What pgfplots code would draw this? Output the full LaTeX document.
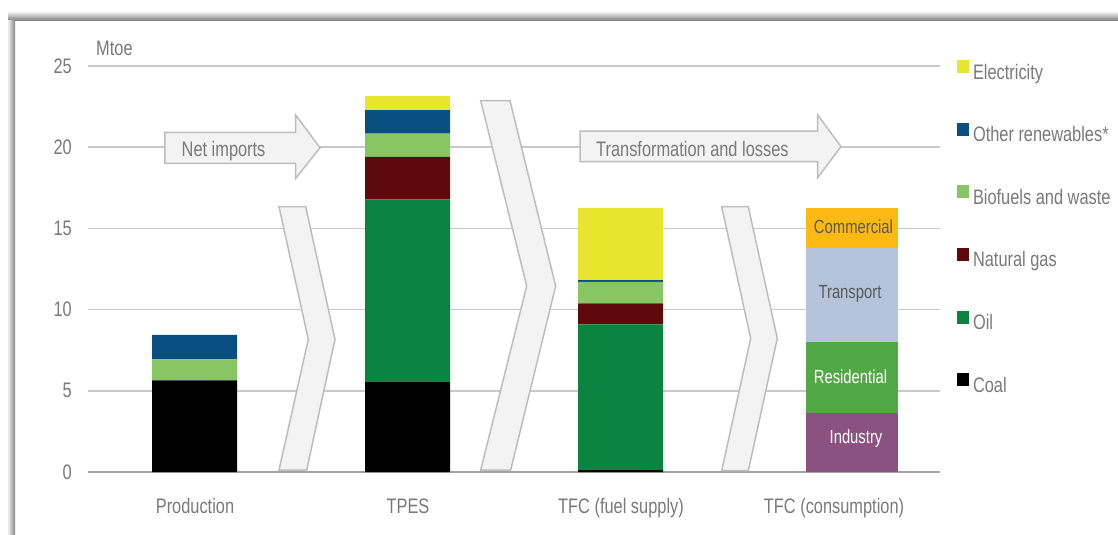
\documentclass[border=0pt]{standalone}
\usepackage{pgfplots}
\pgfplotsset{compat=1.18}
\usepackage{fontspec}
\setmainfont{Liberation Sans}[FakeStretch=0.78]

\definecolor{textgray}{HTML}{7A7A7A}
\definecolor{darktext}{HTML}{595959}
\definecolor{gridgray}{HTML}{C8C8C8}
\definecolor{axisgray}{HTML}{A3A3A3}
\definecolor{shapefill}{HTML}{F3F3F3}
\definecolor{shapeedge}{HTML}{BDBDBD}
\definecolor{elec}{HTML}{E8E52E}
\definecolor{renew}{HTML}{0A4F82}
\definecolor{bio}{HTML}{87C663}
\definecolor{gas}{HTML}{5E0A0D}
\definecolor{oil}{HTML}{0B8442}
\definecolor{coal}{HTML}{000000}
\definecolor{commercial}{HTML}{FDB913}
\definecolor{transport}{HTML}{B5C3DB}
\definecolor{residential}{HTML}{52A747}
\definecolor{industry}{HTML}{8B5180}

\newcommand\fs{\fontsize{21bp}{25bp}\selectfont}
\newcommand\fsb{\fontsize{19bp}{22bp}\selectfont}

% page-pixel coordinates (origin top left, y downwards) inside the axis
\tikzset{
  px/.style={shift={(axis cs:0,29.0640)}, x=1bp, y=-1bp},
  flowshape/.style={px, fill=shapefill, draw=shapeedge, line width=1.5bp, line join=miter},
  flowtext/.style={anchor=base west, font=\fs, text=textgray, inner sep=0pt},
  bartext/.style={anchor=base, font=\fsb, inner sep=0pt},
}
% same plot box for both axes
\pgfplotsset{
  panel/.style={
    at={(88bp,-472bp)}, anchor=south west,
    width=852bp, height=406bp, scale only axis,
    xmin=88, xmax=940, ymin=0, ymax=25,
    ybar stacked,
  },
}

\begin{document}
\begin{tikzpicture}
\useasboundingbox (0,0) rectangle (1118bp,-535bp);
% panel frame with soft shadow
\begin{scope}[x=1bp,y=-1bp]
  \fill[white] (0,0) rectangle (1118,535);
  \shade[top color=white, bottom color=black!48] (8,11) rectangle (1118,20);
  \shade[left color=white, right color=black!48] (7,20) rectangle (15,535);
\end{scope}

% supply side, by fuel
\begin{axis}[
  panel, bar width=85,
  xtick={195,408,621,834},
  xticklabels={Production,TPES,TFC (fuel supply),TFC (consumption)},
  ytick={0,5,...,25},
  ymajorgrids, grid style={draw=gridgray, line width=1.5bp},
  axis x line*=bottom, axis y line*=left,
  x axis line style={draw=axisgray, line width=2bp, -},
  y axis line style={draw=none},
  major tick length=0pt, tick style={draw=none},
  /pgf/number format/assume math mode=true,
  yticklabel style={anchor=east, inner sep=0pt, xshift=-16bp, font=\fs, text=textgray},
  xticklabel style={anchor=base, inner sep=0pt, yshift=-41bp, font=\fs, text=textgray},
  legend style={at={(axis cs:957,25.36)}, anchor=north west,
    draw=none, fill=none, inner sep=0pt, outer sep=0pt,
    row sep=39.6bp, column sep=4bp, font=\fs, text=textgray,
    nodes={inner sep=0pt, text height=15bp, text depth=4bp}},
  legend cell align=left, reverse legend,
  legend image code/.code={\fill[#1] (0bp,0.5bp) rectangle (12bp,13.5bp);},
]
% chevrons and flow arrows
\filldraw[flowshape] (279,206.7) -- (305.7,206.7) -- (335,339.3) -- (306.7,470) -- (279,470) -- (308.3,339.3) -- cycle;
\filldraw[flowshape] (480.7,100.7) -- (510,100.7) -- (555.7,286) -- (510.7,470) -- (480.7,470) -- (526.7,286) -- cycle;
\filldraw[flowshape] (721.7,206.7) -- (748.3,206.7) -- (777.3,338.3) -- (748.3,470.7) -- (721.7,470.7) -- (750.7,338.3) -- cycle;
\filldraw[flowshape] (165,132.3) -- (295.7,132.3) -- (295.7,115) -- (320,147.8) -- (295.7,178.3) -- (295.7,163.3) -- (165,163.3) -- cycle;
\filldraw[flowshape] (580,131) -- (817.7,131) -- (817.7,115) -- (841,146.5) -- (817.7,177.7) -- (817.7,161.7) -- (580,161.7) -- cycle;

% Mtoe by fuel
\addplot[fill=coal, draw=none]  coordinates {(194.5,5.65) (407.7,5.54) (620.5,0.12)};
\addplot[fill=oil, draw=none]   coordinates {(194.5,0) (407.7,11.25) (620.5,8.97)};
\addplot[fill=gas, draw=none]   coordinates {(194.5,0) (407.7,2.61) (620.5,1.30)};
\addplot[fill=bio, draw=none]   coordinates {(194.5,1.29) (407.7,1.43) (620.5,1.31)};
\addplot[fill=renew, draw=none] coordinates {(194.5,1.50) (407.7,1.46) (620.5,0.12)};
\addplot[fill=elec, draw=none]  coordinates {(194.5,0) (407.7,0.86) (620.5,4.45)};
\legend{Coal,Oil,Natural gas,Biofuels and waste,Other renewables*,Electricity}
\end{axis}

% final consumption, by sector
\begin{axis}[panel, hide axis, bar width=92]
\addplot[fill=industry, draw=none]    coordinates {(851.7,3.65)};
\addplot[fill=residential, draw=none] coordinates {(851.7,4.37)};
\addplot[fill=transport, draw=none]   coordinates {(851.7,5.75)};
\addplot[fill=commercial, draw=none]  coordinates {(851.7,2.47)};
\end{axis}

% captions on top of shapes and bars
\begin{scope}[x=1bp,y=-1bp]
  \node[flowtext] at (96,55) {Mtoe};
  \node[flowtext] at (181.5,156.5) {Net imports};
  \node[flowtext] at (596,156.5) {Transformation and losses};
  \node[bartext, text=darktext] at (853.5,233) {Commercial};
  \node[bartext, text=darktext] at (850,298) {Transport};
  \node[bartext, text=white] at (850.5,383) {Residential};
  \node[bartext, text=white] at (856,443) {Industry};
\end{scope}
\end{tikzpicture}
\end{document}
